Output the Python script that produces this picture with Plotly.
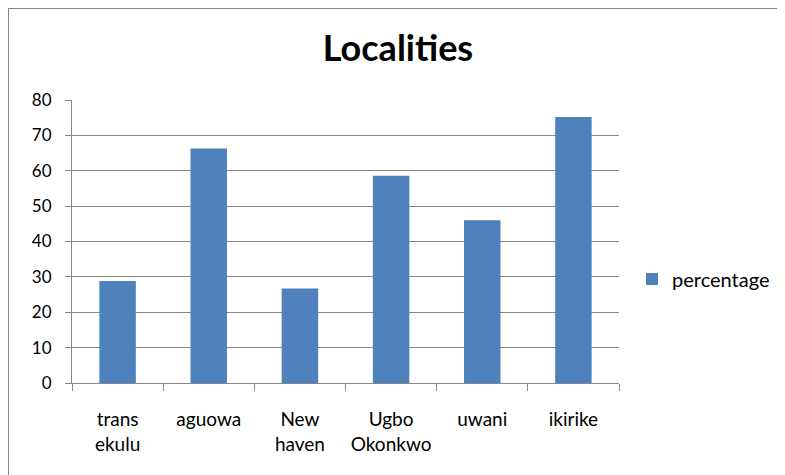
import plotly.graph_objects as go

categories = ["trans<br>ekulu", "aguowa", "New<br>haven", "Ugbo<br>Okonkwo", "uwani", "ikirike"]
percentage = [28.8, 66.3, 26.7, 58.6, 46.0, 75.2]
y_ticks = [0, 10, 20, 30, 40, 50, 60, 70, 80]

OFF = 8  # page body margin
SW, SH = 785, 475  # screen size
W, H = SW - OFF, SH - OFF
# desired plot area in screen pixels
SX0, SX1, SY0, SY1 = 72, 619, 100, 383
L, T = SX0 - OFF, SY0 - OFF
R = W - (SX1 - OFF)
B = H - (SY1 - OFF)
pw, ph = SX1 - SX0, SY1 - SY0

def px_x(x):
    return (x - SX0) / pw

def px_y(y):
    return (SY1 - y) / ph

fig = go.Figure()
fig.add_trace(go.Bar(
    x=categories, y=percentage, name="percentage",
    marker=dict(color="#4F81BD", line=dict(width=0)),
))

grey = "#868686"
fig.update_layout(
    width=W, height=H,
    margin=dict(l=L, r=R, t=T, b=B, autoexpand=False),
    paper_bgcolor="white", plot_bgcolor="white",
    bargap=0.6,
    showlegend=True,
    title=dict(text="<b>Localities</b>", x=px_x(398), xref="paper", xanchor="center",
               y=1 - (48 - OFF) / H, yref="container", yanchor="middle",
               font=dict(family="Lato", size=36, color="black")),
    legend=dict(x=px_x(632), xanchor="left", y=px_y(279), yanchor="middle",
                font=dict(family="Lato", size=20, color="black"),
                bgcolor="rgba(0,0,0,0)"),
    xaxis=dict(showgrid=False, showline=True, linecolor=grey, linewidth=1,
               ticks="outside", tickson="boundaries", ticklen=7, tickcolor=grey,
               tickfont=dict(family="Lato", size=19, color="black"),
               ticklabelstandoff=19, zeroline=False),
    yaxis=dict(range=[0, 80], tickvals=y_ticks, showgrid=True, gridcolor=grey, gridwidth=1,
               showline=True, linecolor=grey, linewidth=1, zeroline=False,
               ticks="outside", ticklen=6, tickcolor=grey,
               tickfont=dict(family="Lato", size=17, color="black"),
               ticklabelstandoff=10),
    shapes=[
        dict(type="line", xref="paper", yref="paper", x0=px_x(OFF - 2), x1=px_x(SW + 2),
             y0=px_y(OFF), y1=px_y(OFF), line=dict(color=grey, width=2)),
        dict(type="line", xref="paper", yref="paper", x0=px_x(OFF), x1=px_x(OFF),
             y0=px_y(OFF), y1=px_y(SH + 2), line=dict(color=grey, width=2)),
    ],
)

fig.write_html("out.html", config={"displayModeBar": False})
